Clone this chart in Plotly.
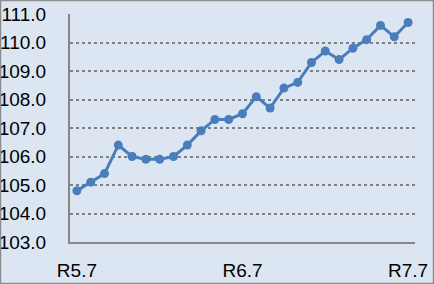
import plotly.graph_objects as go

months = ["R5.7", "R5.8", "R5.9", "R5.10", "R5.11", "R5.12", "R6.1", "R6.2", "R6.3",
          "R6.4", "R6.5", "R6.6", "R6.7", "R6.8", "R6.9", "R6.10", "R6.11", "R6.12",
          "R7.1", "R7.2", "R7.3", "R7.4", "R7.5", "R7.6", "R7.7"]
values = [104.8, 105.1, 105.4, 106.4, 106.0, 105.9, 105.9, 106.0, 106.4,
          106.9, 107.3, 107.3, 107.5, 108.1, 107.7, 108.4, 108.6, 109.3,
          109.7, 109.4, 109.8, 110.1, 110.6, 110.2, 110.7]
tick_labels = ["R5.7", "R6.7", "R7.7"]
y_ticks = [103, 104, 105, 106, 107, 108, 109, 110, 111]

W, H = 434, 284
L, R, T, B = 70, 19, 14, 42
pw, ph = W - L - R, H - T - B

fig = go.Figure()
fig.add_trace(go.Scatter(
    x=months, y=values, mode="lines+markers",
    line=dict(color="#4A7EBB", width=3),
    marker=dict(color="#4A7EBB", size=9),
))

font = dict(family="Liberation Sans, Arial, sans-serif", size=19, color="#000000")

fig.update_layout(
    width=W, height=H,
    margin=dict(l=L, r=R, t=T, b=B, autoexpand=False),
    paper_bgcolor="#DCE6F2", plot_bgcolor="#DCE6F2",
    showlegend=False,
    font=font,
    xaxis=dict(
        type="category", categoryorder="array", categoryarray=months,
        range=[-0.5, len(months) - 0.5],
        tickvals=tick_labels, ticktext=tick_labels,
        showgrid=False, zeroline=False, automargin=False,
        showline=True, linecolor="#878787", linewidth=2,
        ticks="", ticklabelstandoff=10,
        tickfont=font,
    ),
    yaxis=dict(
        range=[103, 111], tickvals=y_ticks,
        ticktext=[f"{v:.1f}" for v in y_ticks],
        showgrid=True, gridcolor="#7F7F7F", griddash="dot", gridwidth=1.5,
        zeroline=False, automargin=False,
        showline=True, linecolor="#878787", linewidth=2,
        ticks="", ticklabelstandoff=18,
        tickfont=font,
    ),
    shapes=[dict(
        type="rect", xref="paper", yref="paper",
        x0=(0.5 - L) / pw, x1=(W - 0.5 - L) / pw,
        y0=-(B - 0.5) / ph,
        y1=(ph + T - 0.5) / ph,
        line=dict(color="#8C8C8C", width=1.5), layer="above",
    )],
)

fig.write_html("out.html")
